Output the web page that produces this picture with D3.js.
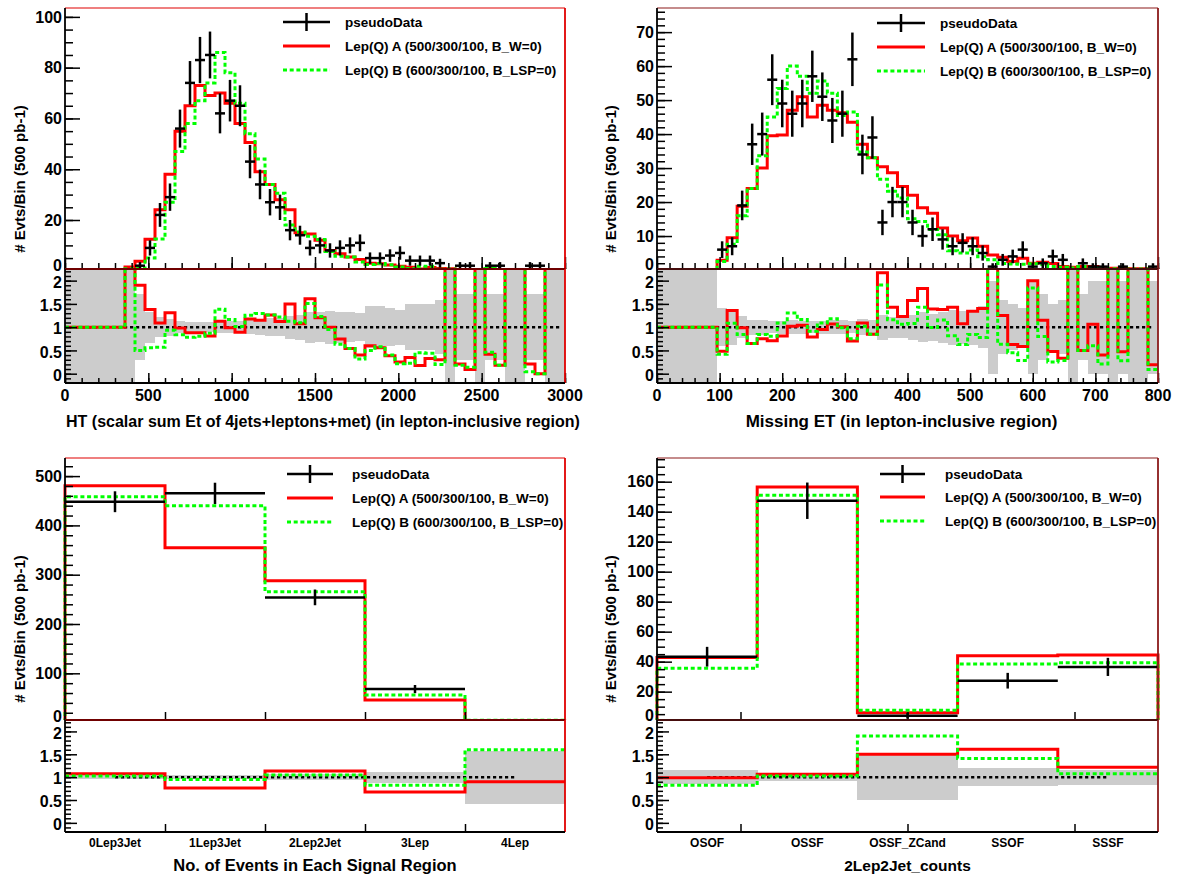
<!DOCTYPE html>
<html>
<head>
<meta charset="utf-8">
<script src="https://cdn.jsdelivr.net/npm/d3@7"></script>
<style>
  body { margin: 0; background: #fff; }
  text { font-family: "Liberation Sans", Arial, Helvetica, sans-serif; font-weight: bold; fill: #000; }
</style>
</head>
<body>
<svg id="canvas" width="1177" height="878"></svg>
<script>
// ---------------- data ----------------
// HT distribution: 50 bins of 60 GeV over [0, 3000]
const htRange = [0, 3000];
const htData = [0,0,0,0,0,0,0,2,9,22,29,56,74,83,85,62,67,65,43,34,27,25,16,14,9,10,8,9,10,11,5,5,6,7,4,4,4,3,0,2,2,0,2,2,0,0,2,2,0,0];
const htLepA = [0,0,0,0,0,0,1.5,3.8,12.4,24,38,55,65,73,69,70,66,58,50.5,39,34,28,24,15,14.5,12,8,6.7,5.4,4.4,3,2.8,2.3,1.75,1.4,0.7,1.3,0.9,0.8,0.42,0.18,0.5,0.84,0.36,0.3,0.3,0.42,0,0.2,0.2];
const htLepB = [0,0,0,0,0,0,0.8,1,5,12.5,27,47,58,67,74,86,78,66,54,44,34,30.5,18,15.3,13.6,12.3,7.6,5.7,5.4,3.5,2.5,2.9,2.4,1.5,0.9,1.8,1.75,0.6,0.7,0.36,0.28,0.5,0.92,0.36,0.3,0.3,0.08,0,0.2,0.2];
const htTicks = [0, 500, 1000, 1500, 2000, 2500, 3000];
const htYTicks = [0, 20, 40, 60, 80, 100];

// Missing ET distribution: 50 bins of 16 GeV over [0, 800]
const metRange = [0, 800];
const metData = [0,0,0,0,0,0,6,7,19,37,40,56,49,46,49,57,51,44,46,62,34,39,14,20,20,14,10,12,9,7,8,7,5,1,3,4,6,1,2,4,3,0,2,1,1,0,1,0,0,1];
const metLepA = [0,0,0,0,0,0,2.9,9.5,18.8,24,30,39.5,39.7,47,51,45,48.5,47,46.3,43.5,37,33,30.4,28.6,24.6,22,18.3,16.7,12.4,10,8.6,9.4,7,4.4,3.75,2.5,3.5,2,2.3,1.9,1,0.8,1,1.06,0.4,0.5,0.47,0.4,0.4,0.19];
const metLepB = [0,0,0,0,0,0,2.5,7.6,16,24,33.6,45,53.4,60,57,52,55.6,52,45.5,46.5,34.7,33,26.7,23.2,21.2,15.1,14.3,11.9,10.4,5.7,5,5.9,3.9,3,1.9,1.8,1.7,1.84,1.6,1,0.85,0.6,1,0.6,0.21,0.4,0.28,0.3,0.3,0.09];
const metTicks = [0, 100, 200, 300, 400, 500, 600, 700, 800];
const metYTicks = [0, 10, 20, 30, 40, 50, 60, 70];

// Event counts per signal region
const srCategories = ["0Lep3Jet", "1Lep3Jet", "2Lep2Jet", "3Lep", "4Lep"];
const srData = [448, 465, 254, 68, 3];
const srLepA = [480.6, 354.8, 287.9, 45.8, 2.7];
const srLepB = [458, 440, 265.6, 56, 4.8];
const srYTicks = [0, 100, 200, 300, 400, 500];

// 2Lep2Jet sub-channel counts
const dlCategories = ["OSOF", "OSSF", "OSSF_ZCand", "SSOF", "SSSF"];
const dlData = [43.3, 147.3, 4, 27.3, 36.5];
const dlLepA = [42.8, 156.5, 6, 44, 44.4];
const dlLepB = [35.6, 151, 7.6, 38.5, 39.3];
const dlYTicks = [0, 20, 40, 60, 80, 100, 120, 140, 160];

const ratioTicks = [0, 0.5, 1, 1.5, 2];
const legendLabels = ["pseudoData", "Lep(Q) A (500/300/100, B_W=0)", "Lep(Q) B (600/300/100, B_LSP=0)"];
const yTitle = "# Evts/Bin (500 pb-1)";

// ---------------- drawing ----------------
const svg = d3.select("#canvas");
const defs = svg.append("defs");
const RED = "#ff0000", GREEN = "#00ff00";
const ratioDomain = [-0.2, 2.25];

function minorTicks(domain, step) {
  const lo = Math.ceil(domain[0] / step - 1e-9) * step;
  return d3.range(lo, domain[1] + 1e-9, step).map(v => +v.toFixed(6));
}

function drawPanel(o) {
  const g = svg.append("g");
  const nb = o.data.length;
  const x = d3.scaleLinear().domain(o.xDomain).range([o.x0, o.x1]);
  const yM = d3.scaleLinear().domain(o.yDomain).range([o.split, o.top]);
  const yR = d3.scaleLinear().domain(ratioDomain).range([o.bottom, o.split]);
  const bw = (o.xDomain[1] - o.xDomain[0]) / nb;
  const edge = i => o.xDomain[0] + i * bw;
  const centre = i => o.xDomain[0] + (i + 0.5) * bw;

  defs.append("clipPath").attr("id", o.id + "-main").append("rect")
    .attr("x", o.x0 - 2).attr("y", o.top).attr("width", o.x1 - o.x0 + 4).attr("height", o.split - o.top);
  defs.append("clipPath").attr("id", o.id + "-ratio").append("rect")
    .attr("x", o.x0).attr("y", o.split).attr("width", o.x1 - o.x0).attr("height", o.bottom - o.split);

  // --- ratio pane: data stat band, unity line, MC/data ratios
  const rp = g.append("g").attr("clip-path", `url(#${o.id}-ratio)`);
  const relErr = d => 1 / Math.sqrt(d);
  rp.selectAll("rect.band").data(o.data).join("rect").attr("class", "band")
    .attr("x", (d, i) => x(edge(i)))
    .attr("width", (d, i) => x(edge(i + 1)) - x(edge(i)) + 0.3)
    .attr("y", d => d > 0 ? yR(1 + relErr(d)) : o.split)
    .attr("height", d => d > 0 ? yR(1 - relErr(d)) - yR(1 + relErr(d)) : o.bottom - o.split)
    .attr("fill", "#cccccc").attr("shape-rendering", "crispEdges");

  rp.append("line")
    .attr("x1", x(centre(0))).attr("x2", x(centre(nb - 1)))
    .attr("y1", yR(1)).attr("y2", yR(1))
    .attr("stroke", "#000").attr("stroke-width", 2.5).attr("stroke-dasharray", "3.2,2.8");

  const ratioOf = mc => mc.map((v, i) => o.data[i] > 0 ? v / o.data[i] : (v > 0 ? 50 : 1));
  const ratioPath = vals => {
    let p = `M${x(edge(0))},${yR(vals[0])}`;
    vals.forEach((v, i) => { if (i > 0) p += `V${yR(v)}`; p += `H${x(edge(i + 1))}`; });
    return p;
  };
  rp.append("path").attr("d", ratioPath(ratioOf(o.lepA)))
    .attr("fill", "none").attr("stroke", RED).attr("stroke-width", 3);
  rp.append("path").attr("d", ratioPath(ratioOf(o.lepB)))
    .attr("fill", "none").attr("stroke", GREEN).attr("stroke-width", 3).attr("stroke-dasharray", "4,2.7");

  // --- main pane: MC histograms and pseudo-data points
  const mp = g.append("g").attr("clip-path", `url(#${o.id}-main)`);
  const histPath = vals => {
    let p = `M${x(edge(0))},${yM(0)}`;
    vals.forEach((v, i) => { p += `V${yM(v)}H${x(edge(i + 1))}`; });
    return p + `V${yM(0)}`;
  };
  mp.append("path").attr("d", histPath(o.lepA))
    .attr("fill", "none").attr("stroke", RED).attr("stroke-width", 3);
  mp.append("path").attr("d", histPath(o.lepB))
    .attr("fill", "none").attr("stroke", GREEN).attr("stroke-width", 3).attr("stroke-dasharray", "4,2.7");

  // Poisson error bars on the pseudo-data
  const pts = o.data.map((v, i) => ({ v, i })).filter(d => d.v > 0);
  const dp = mp.append("g").attr("stroke", "#000").attr("stroke-width", 2.5);
  dp.selectAll("line.h").data(pts).join("line").attr("class", "h")
    .attr("x1", d => x(edge(d.i))).attr("x2", d => x(edge(d.i + 1)))
    .attr("y1", d => yM(d.v)).attr("y2", d => yM(d.v));
  dp.selectAll("line.v").data(pts).join("line").attr("class", "v")
    .attr("x1", d => x(centre(d.i))).attr("x2", d => x(centre(d.i)))
    .attr("y1", d => yM(d.v - Math.sqrt(d.v))).attr("y2", d => yM(d.v + Math.sqrt(d.v)));

  // --- axes (inward ticks)
  const styleAxis = sel => {
    sel.select(".domain").remove();
    sel.selectAll("line").attr("stroke", "#000").attr("stroke-width", 1.5);
  };
  const inDom = (vals, dom) => vals.filter(v => v >= Math.min(...dom) - 1e-9 && v <= Math.max(...dom) + 1e-9);

  g.append("g").attr("transform", `translate(${o.x0},0)`)
    .call(d3.axisRight(yM).tickValues(inDom(o.yMajors, o.yDomain)).tickSize(15).tickSizeOuter(0).tickFormat(""))
    .call(styleAxis);
  g.append("g").attr("transform", `translate(${o.x0},0)`)
    .call(d3.axisRight(yM).tickValues(minorTicks(o.yDomain, o.yMinor)).tickSize(8).tickSizeOuter(0).tickFormat(""))
    .call(styleAxis);
  g.append("g").attr("transform", `translate(${o.x0},0)`)
    .call(d3.axisRight(yR).tickValues(ratioTicks).tickSize(12).tickSizeOuter(0).tickFormat(""))
    .call(styleAxis);
  g.append("g").attr("transform", `translate(${o.x0},0)`)
    .call(d3.axisRight(yR).tickValues(minorTicks([-0.19, 2.2], 0.1)).tickSize(6).tickSizeOuter(0).tickFormat(""))
    .call(styleAxis);

  [[o.split, o.xMainTick], [o.bottom, o.xRatioTick]].forEach(([yy, sz]) => {
    g.append("g").attr("transform", `translate(0,${yy})`)
      .call(d3.axisTop(x).tickValues(o.xMajors).tickSize(sz[0]).tickSizeOuter(0).tickFormat(""))
      .call(styleAxis);
    if (o.xMinor) {
      g.append("g").attr("transform", `translate(0,${yy})`)
        .call(d3.axisTop(x).tickValues(minorTicks(o.xDomain, o.xMinor)).tickSize(sz[1]).tickSizeOuter(0).tickFormat(""))
        .call(styleAxis);
    }
  });

  // --- frame
  const fr = g.append("g").attr("fill", "none");
  [[o.top, o.split], [o.split, o.bottom]].forEach(([t, b]) => {
    fr.append("line").attr("x1", o.x0).attr("x2", o.x1).attr("y1", t).attr("y2", t)
      .attr("stroke", o.frameColor).attr("stroke-width", 1.2);
    fr.append("line").attr("x1", o.x1).attr("x2", o.x1).attr("y1", t).attr("y2", b)
      .attr("stroke", o.frameColor).attr("stroke-width", 1.8);
    fr.append("line").attr("x1", o.x0).attr("x2", o.x0).attr("y1", t).attr("y2", b)
      .attr("stroke", "#000").attr("stroke-width", 1.8);
    fr.append("line").attr("x1", o.x0).attr("x2", o.x1).attr("y1", b).attr("y2", b)
      .attr("stroke", "#000").attr("stroke-width", 2);
  });

  // --- tick labels
  const lab = g.append("g").attr("font-size", 16);
  o.yMajors.forEach(v => {
    lab.append("text").attr("x", o.x0 - 3).attr("y", yM(v) + (v === 0 ? -6 : 0))
      .attr("dy", "0.36em").attr("text-anchor", "end").text(v);
  });
  ratioTicks.forEach(v => {
    lab.append("text").attr("x", o.x0 - 3).attr("y", yR(v) + 1.5)
      .attr("dy", "0.36em").attr("text-anchor", "end").text(v);
  });
  if (o.categories) {
    o.categories.forEach((c, i) => {
      g.append("text").attr("x", x(centre(i))).attr("y", o.bottom + 15)
        .attr("font-size", 12).attr("text-anchor", "middle").text(c);
    });
  } else {
    o.xMajors.forEach(v => {
      lab.append("text").attr("x", x(v)).attr("y", o.bottom + 18)
        .attr("text-anchor", "middle").text(v);
    });
  }

  // --- axis titles
  g.append("text").attr("x", (o.x0 + o.x1) / 2 + o.xTitleShift).attr("y", o.xTitleY)
    .attr("font-size", o.xTitleSize).attr("text-anchor", "middle").text(o.xTitle);
  g.append("text").attr("transform", `translate(${o.yTitleX},${o.top + 171}) rotate(-90)`)
    .attr("dy", "0.35em").attr("font-size", 15).attr("text-anchor", "middle").text(yTitle);

  // --- legend
  const L = o.legend, lg = g.append("g");
  const ly = L.ys;
  lg.append("line").attr("x1", L.x1).attr("x2", L.x2).attr("y1", ly[0]).attr("y2", ly[0])
    .attr("stroke", "#000").attr("stroke-width", 2.5);
  lg.append("line").attr("x1", (L.x1 + L.x2) / 2).attr("x2", (L.x1 + L.x2) / 2)
    .attr("y1", ly[0] - 9).attr("y2", ly[0] + 9).attr("stroke", "#000").attr("stroke-width", 2.5);
  lg.append("line").attr("x1", L.x1).attr("x2", L.x2).attr("y1", ly[1]).attr("y2", ly[1])
    .attr("stroke", RED).attr("stroke-width", 3);
  lg.append("line").attr("x1", L.x1).attr("x2", L.x2).attr("y1", ly[2]).attr("y2", ly[2])
    .attr("stroke", GREEN).attr("stroke-width", 3).attr("stroke-dasharray", "4,2.7");
  legendLabels.forEach((t, k) => {
    lg.append("text").attr("x", L.tx).attr("y", ly[k]).attr("dy", "0.36em")
      .attr("font-size", 13.5).text(t);
  });
}

const topGeom = { top: 8, split: 269, bottom: 383, xTitleY: 427 };
const botGeom = { top: 458, split: 720, bottom: 832, xTitleY: 871 };

drawPanel(Object.assign({
  id: "ht", x0: 65, x1: 565, xDomain: htRange, yDomain: [0.7, 103.5],
  data: htData, lepA: htLepA, lepB: htLepB,
  yMajors: htYTicks, yMinor: 5, xMajors: htTicks, xMinor: 100,
  xMainTick: [12, 6], xRatioTick: [10, 5],
  xTitle: "HT (scalar sum Et of 4jets+leptons+met) (in lepton-inclusive region)", xTitleShift: 8, xTitleSize: 16,
  yTitleX: 20, frameColor: "#e00000",
  legend: { x1: 283, x2: 330, tx: 345, ys: [22, 46, 70] }
}, topGeom));

drawPanel(Object.assign({
  id: "met", x0: 657, x1: 1158, xDomain: metRange, yDomain: [0.3, 77.1],
  data: metData, lepA: metLepA, lepB: metLepB,
  yMajors: metYTicks, yMinor: 2, xMajors: metTicks, xMinor: 20,
  xMainTick: [12, 6], xRatioTick: [10, 5],
  xTitle: "Missing ET (in lepton-inclusive region)", xTitleShift: -6, xTitleSize: 17,
  yTitleX: 611, frameColor: "#8b1a1a",
  legend: { x1: 877, x2: 925, tx: 940, ys: [23, 47, 71] }
}, topGeom));

drawPanel(Object.assign({
  id: "sr", x0: 65, x1: 565, xDomain: [0, srCategories.length], yDomain: [5.3, 536.7],
  data: srData, lepA: srLepA, lepB: srLepB, categories: srCategories,
  yMajors: srYTicks, yMinor: 20, xMajors: [1, 2, 3, 4], xMinor: null,
  xMainTick: [8, 4], xRatioTick: [8, 4],
  xTitle: "No. of Events in Each Signal Region", xTitleShift: 0, xTitleSize: 16.5,
  yTitleX: 20, frameColor: "#e00000",
  legend: { x1: 287, x2: 333, tx: 352, ys: [474, 498, 522] }
}, botGeom));

drawPanel(Object.assign({
  id: "dl", x0: 657, x1: 1158, xDomain: [0, dlCategories.length], yDomain: [1.1, 175.8],
  data: dlData, lepA: dlLepA, lepB: dlLepB, categories: dlCategories,
  yMajors: dlYTicks, yMinor: 5, xMajors: [5 / 6, 2.5, 25 / 6], xMinor: null,
  xMainTick: [8, 4], xRatioTick: [8, 4],
  xTitle: "2Lep2Jet_counts", xTitleShift: 0, xTitleSize: 15.5,
  yTitleX: 611, frameColor: "#8b1a1a",
  legend: { x1: 880, x2: 925, tx: 945, ys: [474, 497, 521] }
}, botGeom));
</script>
</body>
</html>
